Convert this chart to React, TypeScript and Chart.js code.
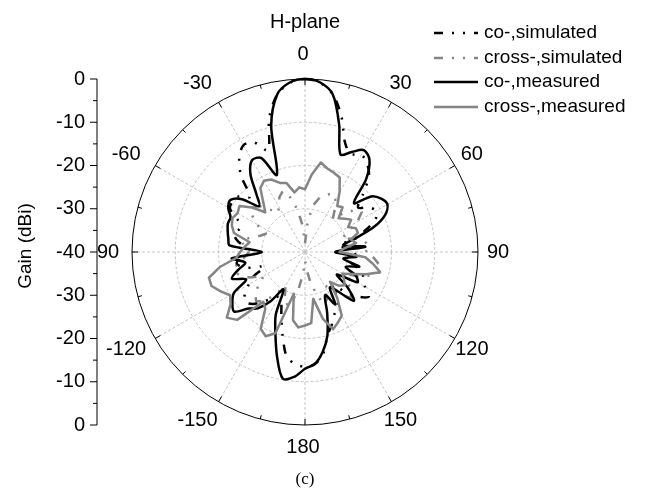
import React, { useEffect, useRef } from 'react';
import { Chart, registerables } from 'chart.js';

Chart.register(...registerables);

// Angle categories (degrees, clockwise from top)
const angles = [
  0, 5, 10, 15, 20, 25, 30, 35, 40, 45, 50, 55,
  60, 65, 70, 75, 80, 85, 90, 95, 100, 105, 110, 115,
  120, 125, 130, 135, 140, 145, 150, 155, 160, 165, 170, 175,
  180, 185, 190, 195, 200, 205, 210, 215, 220, 225, 230, 235,
  240, 245, 250, 255, 260, 265, 270, 275, 280, 285, 290, 295,
  300, 305, 310, 315, 320, 325, 330, 335, 340, 345, 350, 355,
];

// Angle tick labels shown every 30 degrees
const angleTickLabels = ['0', '30', '60', '90', '120', '150', '180', '-150', '-120', '90', '-60', '-30'];

// Radial tick values (dBi)
const gainTicks = [0, -10, -20, -30, -40];

const coSimulated = [
  0, -0.7, -3, -7.5, -13, -15, -14, -15, -17, -21, -24, -22,
  -21, -22, -25, -29, -32, -30, -28, -29, -31, -28, -26, -25,
  -24, -22, -24, -27, -30, -27, -25, -24, -22, -20, -16, -14,
  -13.5, -14, -15.5, -20, -24, -27, -28, -27, -25, -23, -22, -23,
  -25, -27, -30, -26, -24, -25, -28, -26, -24, -23, -24, -23,
  -20, -19.5, -20, -22, -17, -13.5, -11.5, -12, -15, -8, -3, -0.7,
];

const crossSimulated = [
  -38, -33, -29, -27, -26, -25, -26, -28, -30, -27, -25, -24,
  -26, -29, -31, -28, -26, -25, -26, -24, -22.5, -22, -24, -27,
  -30, -28, -26, -25, -27, -30, -31, -28, -27, -30, -33, -36,
  -38, -35, -31, -28, -27, -29, -31, -28, -25, -24, -25, -27,
  -29, -26, -24, -23, -24, -26, -27, -26, -25, -27, -29, -30,
  -27, -25, -24, -25, -27, -29, -28, -26, -25, -27, -30, -34,
];

const coMeasured = [
  0, -0.6, -3, -9.5, -16, -14.5, -12.8, -14, -18, -24, -20, -18.5,
  -18, -19.5, -23, -28, -31, -26, -33, -28, -31, -27, -30, -27,
  -26, -31, -27, -24, -28, -30, -26, -29, -25, -20, -16.5, -14,
  -13, -11, -10.3, -15, -20, -24, -30, -26, -23, -21.5, -18.6, -19.5,
  -21, -25, -22, -24, -26, -23, -30, -22.5, -22, -21.5, -21, -21,
  -19.5, -19, -21, -25, -22.5, -18, -15.5, -16, -21, -9.8, -3, -0.6,
];

const crossMeasured = [
  -25.5, -22, -19, -20, -20.5, -21, -24, -27, -26.5, -29, -28, -27,
  -28.5, -27, -27, -29, -28, -31, -32, -26, -24, -22, -25, -28,
  -30, -29, -28, -29, -31, -27, -23, -22, -21, -24, -29, -23.5,
  -23, -22.5, -24, -30, -20, -18.5, -19.5, -24, -25, -17.8, -16.4, -19,
  -20, -18.5, -17, -17, -20, -24, -25, -26, -27, -23, -22, -21.5,
  -22, -21.5, -24, -27, -25, -22, -21, -21.5, -23, -23.5, -26, -25,
];

const seriesNames = ['co-,simulated', 'cross-,simulated', 'co-,measured', 'cross-,measured'];

const SANS = '"Liberation Sans", Arial, Helvetica, sans-serif';
const SERIF = '"Liberation Serif", "Times New Roman", serif';
const BLACK = '#000000';
const GRAY = '#858585';
const GRID = '#c4c4c4';
const SIM_DASH = [9, 9, 2, 9, 2, 9];

const styles = [
  { color: BLACK, dash: SIM_DASH, tension: 0.3 },
  { color: GRAY, dash: SIM_DASH, tension: 0 },
  { color: BLACK, dash: [] as number[], tension: 0.3 },
  { color: GRAY, dash: [] as number[], tension: 0 },
];

const decorPlugin = {
  id: 'polarDecor',
  afterDraw(chart: any) {
    const s = chart.scales.r;
    const ctx: CanvasRenderingContext2D = chart.ctx;
    const cx = s.xCenter;
    const cy = s.yCenter;
    const R = s.getDistanceFromCenterForValue(0);
    ctx.save();

    // outer circle
    ctx.setLineDash([]);
    ctx.strokeStyle = BLACK;
    ctx.lineWidth = 1;
    ctx.beginPath();
    ctx.arc(cx, cy, R, 0, Math.PI * 2);
    ctx.stroke();

    // angular ticks every 15 degrees (inward)
    for (let i = 0; i < angles.length; i += 3) {
      const len = i % 6 === 0 ? 6 : 4;
      const p1 = s.getPointPosition(i, R);
      const p2 = s.getPointPosition(i, R - len);
      ctx.beginPath();
      ctx.moveTo(p1.x, p1.y);
      ctx.lineTo(p2.x, p2.y);
      ctx.stroke();
    }

    // angular labels
    ctx.fillStyle = BLACK;
    ctx.font = `20px ${SANS}`;
    ctx.textAlign = 'center';
    ctx.textBaseline = 'middle';
    angleTickLabels.forEach((txt, k) => {
      const idx = k * 6;
      const p = s.getPointPosition(idx, R + 22);
      const dx = txt.startsWith('-') ? -10 : -2;
      const dy = k === 0 ? -3 : 0;
      ctx.fillText(txt, p.x + dx, p.y + dy);
    });

    // left gain axis
    const ax = 97;
    const top = cy - R;
    const bot = cy + R;
    ctx.beginPath();
    ctx.moveTo(ax, top);
    ctx.lineTo(ax, bot);
    ctx.stroke();
    ctx.textAlign = 'right';
    ctx.font = `20px ${SANS}`;
    gainTicks.forEach((v) => {
      const d = s.getDistanceFromCenterForValue(v);
      const ys = v === -40 ? [cy] : [cy - d, cy + d];
      ys.forEach((y) => {
        ctx.beginPath();
        ctx.moveTo(ax, y);
        ctx.lineTo(ax - 7, y);
        ctx.stroke();
        ctx.fillText(String(v), ax - 12, y);
      });
    });
    for (let v = -35; v < 0; v += 10) {
      const d = s.getDistanceFromCenterForValue(v);
      [cy - d, cy + d].forEach((y) => {
        ctx.beginPath();
        ctx.moveTo(ax, y);
        ctx.lineTo(ax - 4, y);
        ctx.stroke();
      });
    }

    // axis title
    ctx.save();
    ctx.translate(26, cy - 6);
    ctx.rotate(-Math.PI / 2);
    ctx.textAlign = 'center';
    ctx.font = `19px ${SANS}`;
    ctx.fillText('Gain (dBi)', 0, 0);
    ctx.restore();

    // plot title
    ctx.textAlign = 'center';
    ctx.font = `20px ${SANS}`;
    ctx.fillText('H-plane', cx, 22);

    // caption
    ctx.font = `17px ${SERIF}`;
    ctx.fillText('(c)', cx, 480);

    // legend
    const rows = [33, 58, 82, 107];
    ctx.font = `19px ${SANS}`;
    ctx.textAlign = 'left';
    seriesNames.forEach((name, i) => {
      const y = rows[i];
      ctx.strokeStyle = styles[i].color;
      ctx.lineWidth = 2.5;
      ctx.setLineDash(styles[i].dash);
      ctx.beginPath();
      ctx.moveTo(434, y);
      ctx.lineTo(478, y);
      ctx.stroke();
      ctx.setLineDash([]);
      ctx.fillStyle = BLACK;
      ctx.fillText(name, 484, y);
    });

    ctx.restore();
  },
};

export default function App() {
  const ref = useRef<HTMLCanvasElement | null>(null);

  useEffect(() => {
    document.body.style.margin = '0';
    const canvas = ref.current;
    if (!canvas) return;
    const values = [coSimulated, crossSimulated, coMeasured, crossMeasured];
    const orders = [4, 3, 2, 1];
    const chart = new Chart(canvas, {
      type: 'radar',
      data: {
        labels: angles.map(String),
        datasets: seriesNames.map((name, i) => ({
          label: name,
          data: values[i],
          borderColor: styles[i].color,
          backgroundColor: 'rgba(0,0,0,0)',
          borderWidth: 2.5,
          borderDash: styles[i].dash,
          borderJoinStyle: 'round' as const,
          pointRadius: 0,
          pointHoverRadius: 0,
          fill: false,
          tension: styles[i].tension,
          order: orders[i],
        })),
      },
      options: {
        responsive: false,
        animation: false,
        devicePixelRatio: 1,
        layout: { padding: { left: 132, right: 172, top: 79, bottom: 64 } },
        plugins: {
          legend: { display: false },
          title: { display: false },
          tooltip: { enabled: false },
        },
        scales: {
          r: {
            min: -40,
            max: 0,
            startAngle: 0,
            ticks: { display: false, stepSize: 10 },
            pointLabels: { display: false },
            grid: {
              circular: true,
              lineWidth: 1,
              color: (c: any) => (c.tick && (c.tick.value === 0 || c.tick.value === -40) ? 'rgba(0,0,0,0)' : GRID),
            },
            border: { dash: [3, 2] },
            angleLines: {
              display: true,
              lineWidth: 1,
              borderDash: [3, 2],
              color: (c: any) => (c.index % 6 === 0 ? GRID : 'rgba(0,0,0,0)'),
            },
          },
        },
      },
      plugins: [decorPlugin],
    } as any);
    return () => chart.destroy();
  }, []);

  return (
    <div style={{ width: 650, height: 489, background: '#fff' }}>
      <canvas ref={ref} width={650} height={489} style={{ display: 'block' }} />
    </div>
  );
}
